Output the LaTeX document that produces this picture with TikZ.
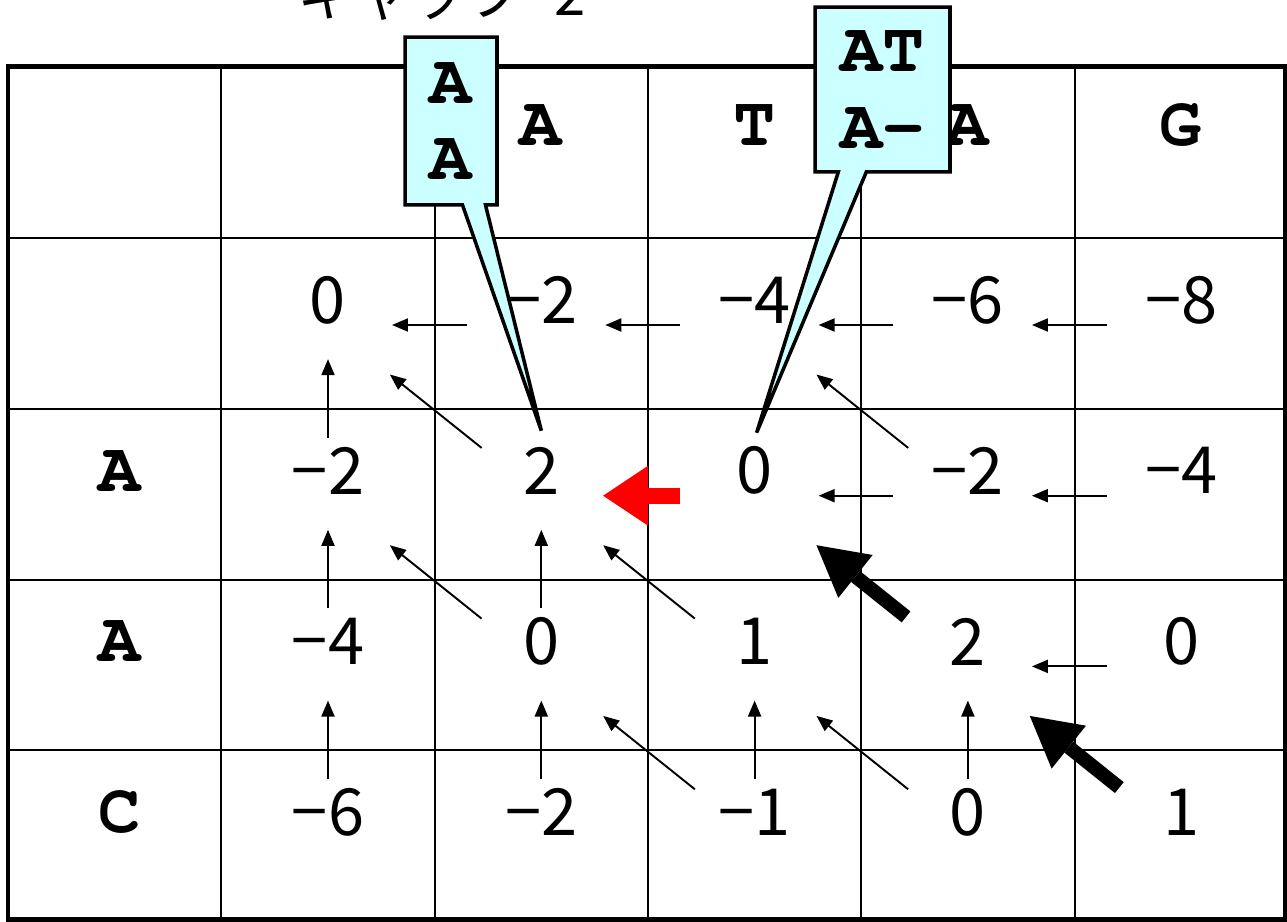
\documentclass[tikz,border=0pt]{standalone}
\usepackage{fontspec}
\setmonofont{TeX Gyre Cursor}
\newfontfamily\jpfont{Noto Sans CJK JP}
\newfontfamily\romanfont{Liberation Serif}
\usetikzlibrary{arrows.meta, shapes.callouts, calc}
\definecolor{callcyan}{RGB}{204,255,255}
\definecolor{penaltygreen}{RGB}{102,153,0}

\begin{document}
\begin{tikzpicture}[x=0.02cm, y=-0.02cm,
  cell/.style={font=\jpfont\fontsize{37}{40}\selectfont},
  nuc/.style={font=\ttfamily\bfseries\fontsize{40}{44}\selectfont},
  thin/.style={line width=1.4pt},
  ptr/.style={-{Triangle[length=0.32cm,width=0.26cm]}, line width=1.1pt},
  bigptr/.style={-{Triangle[length=1.0cm,width=1.1cm,line width=0pt]}, line width=0.28cm},
  redptr/.style={-{Triangle[length=0.9cm,width=1.2cm,line width=0pt]}, line width=0.32cm, red},
  trace/.style={rectangle callout, draw, fill=callcyan, line width=2pt, inner sep=0pt,
    align=left, font=\ttfamily\bfseries\fontsize{40}{43.8}\selectfont}
]
\useasboundingbox (0,0) rectangle (1287,922);

% title line, cut by the page edge
\node[anchor=base west, inner sep=0pt, font=\jpfont\fontsize{32}{32}\selectfont] (title) at (298,16) {ギャップ−2};
\node[anchor=base west, inner sep=0pt, font=\romanfont\fontsize{60}{60}\selectfont, text=penaltygreen] (pval) at (1135,-22) {, p};

% table
\foreach \x in {221,435,648,861,1075} \draw[thin] (\x,67) -- (\x,919);
\foreach \y in {238,409,580,750} \draw[thin] (8,\y) -- (1285,\y);
\draw[line width=0.1cm] (8,67) rectangle (1285,919);

\foreach \ch [count=\i from 0] in {A,T,A,G}
  \node[nuc] (top-\i) at (541+213.3*\i,125) {\ch};
\foreach \ch [count=\i from 1] in {A,A,C}
  \node[nuc] (side-\i) at (120,300+170.7*\i) {\ch};

% scores
\foreach \row [count=\r from 0] in {{0,−2,−4,−6,−8},{−2,2,0,−2,−4},{−4,0,1,2,0},{−6,−2,−1,0,1}} {
  \foreach \v [count=\c from 0] in \row {
    \node[cell] (n-\r-\c) at (328+213.3*\c,300+170.7*\r) {\v};
    \coordinate (a-\r-\c) at (328+213.3*\c,325+170.7*\r);
  }
}

% traceback pointers
\foreach \s/\t in {0-1/0-0,0-2/0-1,0-3/0-2,0-4/0-3,1-3/1-2,1-4/1-3,2-4/2-3}
  \draw[ptr] ($(a-\s)!0.35!(a-\t)$) -- ($(a-\s)!0.70!(a-\t)$);
\foreach \s/\t in {1-0/0-0,2-0/1-0,2-1/1-1,3-0/2-0,3-1/2-1,3-2/2-2,3-3/2-3}
  \draw[ptr] ($(a-\s)!0.34!(a-\t)$) -- ($(a-\s)!0.80!(a-\t)$);
\foreach \s/\t in {1-1/0-0,1-3/0-2,2-1/1-0,2-2/1-1,3-2/2-1,3-3/2-2}
  \draw[ptr] ($(a-\s)!0.28!(a-\t)$) -- ($(a-\s)!0.71!(a-\t)$);

\draw[bigptr] ($(a-2-3)!0.29!(a-1-2)$) -- ($(a-2-3)!0.71!(a-1-2)$);
\draw[bigptr] ($(a-3-4)!0.29!(a-2-3)$) -- ($(a-3-4)!0.71!(a-2-3)$);
\draw[redptr] ($(a-1-2)!0.35!(a-1-1)$) -- ($(a-1-2)!0.71!(a-1-1)$);

% alignments
\coordinate (tip-1) at ($(n-1-1)+(0,-40)$);
\coordinate (tip-2) at ($(n-1-2)+(2,-38)$);
\node[trace, minimum width=1.84cm, minimum height=3.36cm, callout absolute pointer={(tip-1)},
  callout pointer width=0.46cm] (aln-1) at (451,121) {A\\A};
\node[trace, minimum width=2.7cm, minimum height=3.3cm, callout absolute pointer={(tip-2)},
  callout pointer width=0.56cm] (aln-2) at (882.5,89.5) {AT\\A-};
\end{tikzpicture}
\end{document}
